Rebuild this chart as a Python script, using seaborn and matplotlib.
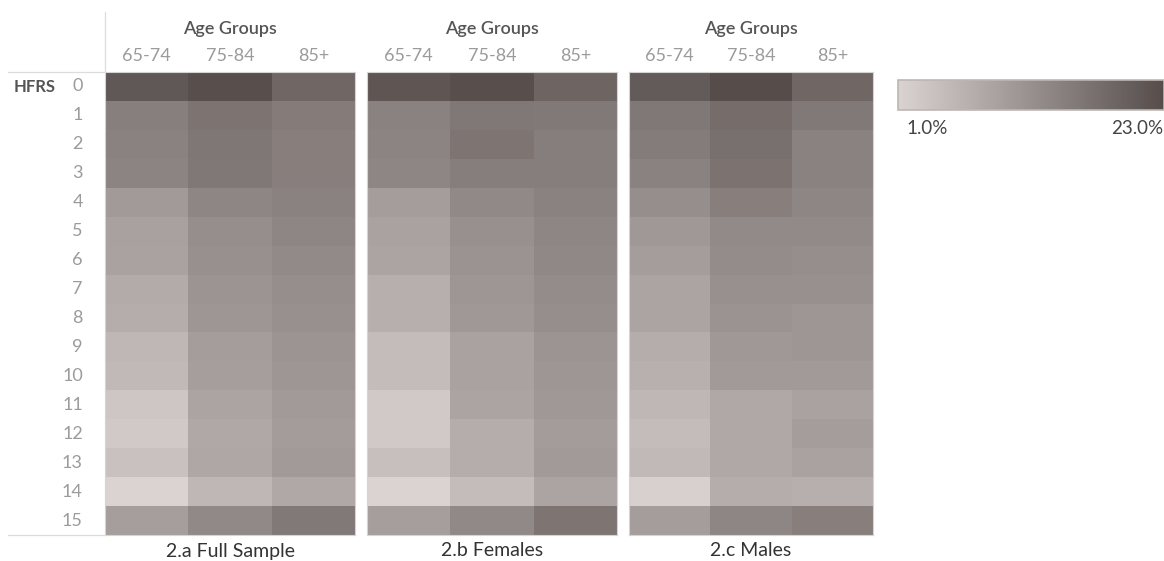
import numpy as np
import pandas as pd
import matplotlib
matplotlib.use("Agg")
import matplotlib.pyplot as plt
from matplotlib.colors import LinearSegmentedColormap
from matplotlib.lines import Line2D
import seaborn as sns

# HFRS score rows, age-group columns, one table of percentages per sample
hfrs_scores = [str(i) for i in range(16)]
age_groups = ["65-74", "75-84", "85+"]
panel_titles = ["2.a Full Sample", "2.b Females", "2.c Males"]

full_65_74 = [21.2, 14.8, 14.3, 14.0, 10.3, 9.3, 9.0, 7.7, 7.3, 5.7, 5.3, 3.2, 2.7, 4.0, 1.0, 9.7]
full_75_84 = [22.7, 16.5, 16.2, 16.0, 13.7, 12.3, 12.0, 11.3, 11.0, 9.8, 9.7, 8.7, 8.0, 8.3, 5.7, 13.2]
full_85p = [18.7, 15.2, 14.7, 14.7, 14.3, 13.7, 13.0, 12.3, 12.0, 11.3, 11.0, 10.3, 10.0, 10.3, 8.0, 15.7]

fem_65_74 = [21.5, 14.3, 14.0, 13.7, 9.8, 9.0, 8.7, 7.0, 7.0, 4.8, 4.8, 2.7, 2.7, 4.3, 1.0, 9.7]
fem_75_84 = [22.7, 16.0, 16.3, 15.0, 13.2, 12.0, 11.5, 11.0, 10.7, 9.0, 9.0, 8.7, 7.3, 7.3, 4.7, 13.2]
fem_85p = [19.0, 15.7, 15.0, 15.0, 14.3, 13.7, 13.3, 12.7, 12.3, 11.3, 11.0, 10.7, 10.0, 10.3, 8.7, 16.3]

male_65_74 = [20.7, 16.0, 15.3, 14.3, 12.3, 10.7, 9.8, 8.7, 8.7, 7.3, 6.7, 5.7, 4.7, 5.3, 1.5, 9.8]
male_75_84 = [23.0, 17.7, 17.3, 16.7, 14.7, 13.0, 12.7, 12.0, 11.5, 10.7, 10.3, 8.0, 8.0, 8.0, 7.3, 13.7]
male_85p = [18.7, 15.7, 14.3, 14.3, 13.7, 13.0, 12.3, 12.0, 11.0, 11.0, 10.3, 9.0, 9.8, 9.0, 7.0, 14.7]

legend_min = 1.0
legend_max = 23.0

panels = [
    (full_65_74, full_75_84, full_85p),
    (fem_65_74, fem_75_84, fem_85p),
    (male_65_74, male_75_84, male_85p),
]

sns.set_theme(style="white")
plt.rcParams["font.family"] = ["Lato", "DejaVu Sans"]

# warm gray sequential ramp
cmap = LinearSegmentedColormap.from_list("gray_warm", ["#dad3d1", "#564d4b"])

W, H = 1164, 561
fig = plt.figure(figsize=(W / 100, H / 100), dpi=100)
fig.patch.set_facecolor("white")


def px_axes(x0, y0, x1, y1):
    return fig.add_axes([x0 / W, 1 - y1 / H, (x1 - x0) / W, (y1 - y0) / H])


panel_x = [(105, 355), (367, 617), (629, 873)]
top, bottom = 72, 535

mesh = None
for i, ((x0, x1), cols, title) in enumerate(zip(panel_x, panels, panel_titles)):
    ax = px_axes(x0, top, x1, bottom)
    df = pd.DataFrame(dict(zip(age_groups, cols)), index=hfrs_scores)
    sns.heatmap(
        df, ax=ax, cmap=cmap, vmin=legend_min, vmax=legend_max, cbar=False,
        xticklabels=True, yticklabels=(i == 0), linewidths=0,
    )
    mesh = ax.collections[0]
    ax.xaxis.tick_top()
    ax.tick_params(axis="x", length=0, pad=6, labelsize=13, labelcolor="#9b9b9b")
    if i == 0:
        ax.tick_params(axis="y", length=0, pad=16, labelsize=13, labelcolor="#9b9b9b")
        for lab in ax.get_yticklabels():
            lab.set_rotation(0)
            lab.set_horizontalalignment("right")
    ax.set_xlabel("")
    ax.set_ylabel("")
    for s in ax.spines.values():
        s.set_visible(True)
        s.set_color("#d4d4d4")
        s.set_linewidth(0.8)
    cx = (x0 + x1) / 2
    fig.text(cx / W, 1 - 29 / H, "Age Groups", ha="center", va="center",
             fontsize=13, fontweight="semibold", color="#555555")
    fig.text(cx / W, 1 - 551 / H, title, ha="center", va="center",
             fontsize=14, color="#333333")

# row header and guide lines
fig.text(14 / W, 1 - 87 / H, "HFRS", ha="left", va="center",
         fontsize=12, fontweight="bold", color="#555555")
fig.add_artist(Line2D([105 / W, 105 / W], [1 - 12 / H, 1 - 72 / H],
                      color="#dcdcdc", lw=0.9))
fig.add_artist(Line2D([8 / W, 105 / W], [1 - 72 / H, 1 - 72 / H],
                      color="#dcdcdc", lw=0.9))
fig.add_artist(Line2D([8 / W, 105 / W], [1 - 535 / H, 1 - 535 / H],
                      color="#dcdcdc", lw=0.9))

# colour legend
cax = px_axes(898, 80, 1164, 110)
cb = fig.colorbar(mesh, cax=cax, orientation="horizontal")
cb.set_ticks([])
cb.outline.set_edgecolor("#bcb7b3")
cb.outline.set_linewidth(1.2)
fig.text(906 / W, 1 - 128 / H, f"{legend_min:.1f}%", ha="left", va="center",
         fontsize=13.5, color="#444444")
fig.text(1163 / W, 1 - 128 / H, f"{legend_max:.1f}%", ha="right", va="center",
         fontsize=13.5, color="#444444")

fig.savefig("out.png", dpi=100, facecolor="white")
